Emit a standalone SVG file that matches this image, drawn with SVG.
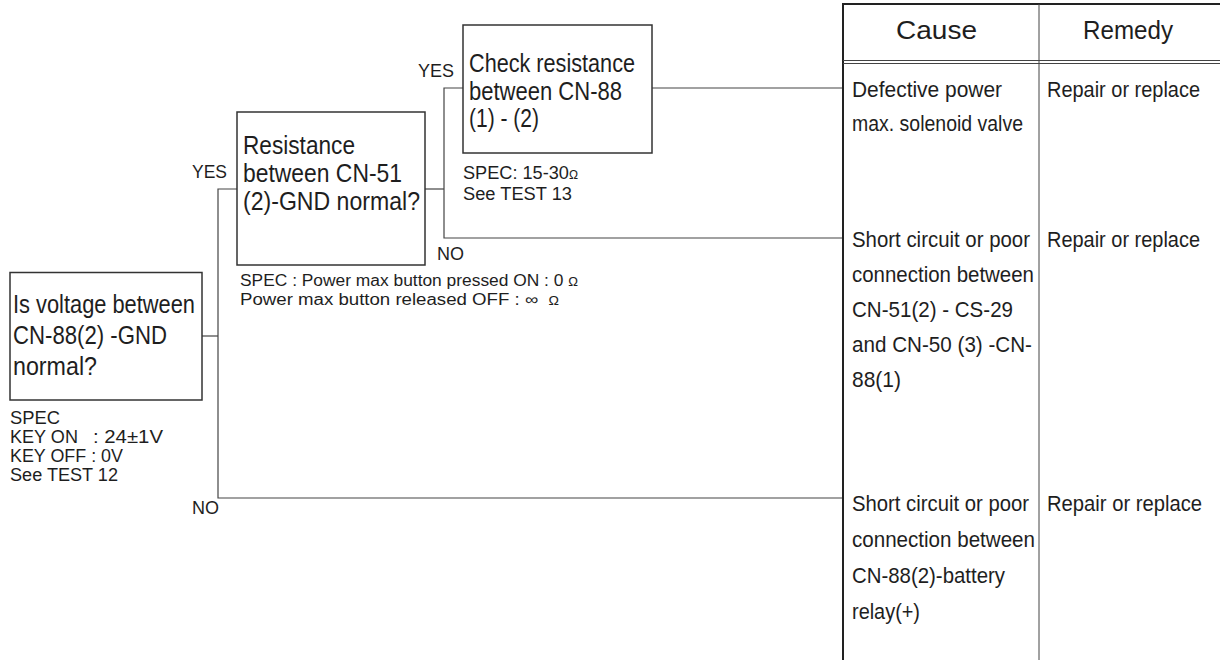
<svg xmlns="http://www.w3.org/2000/svg" width="1220" height="660" viewBox="0 0 1220 660">
<style>
text{font-family:"Liberation Sans",Arial,Helvetica,sans-serif;fill:#1e1e1e}
.t{font-size:25px}
.b{font-size:22px}
.s{font-size:18px}
.s2{font-size:16px}
.l{font-size:19px}
.box{fill:#fff;stroke:#333;stroke-width:1.5}
.c{fill:none;stroke:#444;stroke-width:1.2}
.tb{fill:none;stroke:#222;stroke-width:2}
.tt{fill:none;stroke:#444;stroke-width:1}
.om{font-size:12px}
</style>
<rect width="1220" height="660" fill="#fff"/>

<g id="connectors">
<polyline class="c" points="202,336 218,336"/>
<polyline class="c" points="237,189 218,189 218,498 843,498"/>
<polyline class="c" points="425,189 444,189"/>
<polyline class="c" points="463,88 444,88 444,238 843,238"/>
<polyline class="c" points="652,88 843,88"/>
<text class="l" x="192" y="178" textLength="35" lengthAdjust="spacingAndGlyphs">YES</text>
<text class="l" x="418" y="77" textLength="36" lengthAdjust="spacingAndGlyphs">YES</text>
<text class="l" x="437" y="260" textLength="27" lengthAdjust="spacingAndGlyphs">NO</text>
<text class="l" x="192" y="514" textLength="27" lengthAdjust="spacingAndGlyphs">NO</text>
</g>

<g id="node-voltage">
<rect class="box" x="10" y="272.5" width="192" height="127.5"/>
<text class="t" x="13" y="313" textLength="182" lengthAdjust="spacingAndGlyphs">Is voltage between</text>
<text class="t" x="13" y="344" textLength="154" lengthAdjust="spacingAndGlyphs">CN-88(2) -GND</text>
<text class="t" x="13" y="375" textLength="84" lengthAdjust="spacingAndGlyphs">normal?</text>
<text class="s" x="10" y="424" textLength="50" lengthAdjust="spacingAndGlyphs">SPEC</text>
<text class="s" x="10" y="443" textLength="68" lengthAdjust="spacingAndGlyphs">KEY ON</text>
<text class="s" x="93" y="443" textLength="70" lengthAdjust="spacingAndGlyphs">: 24±1V</text>
<text class="s" x="10" y="462" textLength="113" lengthAdjust="spacingAndGlyphs">KEY OFF : 0V</text>
<text class="s" x="10" y="481" textLength="108" lengthAdjust="spacingAndGlyphs">See TEST 12</text>
</g>

<g id="node-resistance">
<rect class="box" x="237" y="112" width="188" height="153"/>
<text class="t" x="243" y="154" textLength="112" lengthAdjust="spacingAndGlyphs">Resistance</text>
<text class="t" x="243" y="182" textLength="159" lengthAdjust="spacingAndGlyphs">between CN-51</text>
<text class="t" x="243" y="210" textLength="177" lengthAdjust="spacingAndGlyphs">(2)-GND normal?</text>
<text class="s2" x="240" y="286" textLength="338" lengthAdjust="spacingAndGlyphs">SPEC : Power max button pressed ON : 0 <tspan class="om">Ω</tspan></text>
<text class="s2" x="240" y="305" textLength="319" lengthAdjust="spacingAndGlyphs" style="white-space:pre">Power max button released OFF : ∞  <tspan class="om">Ω</tspan></text>
</g>

<g id="node-check">
<rect class="box" x="463" y="25" width="189" height="128"/>
<text class="t" x="469" y="72" textLength="166" lengthAdjust="spacingAndGlyphs">Check resistance</text>
<text class="t" x="469" y="100" textLength="153" lengthAdjust="spacingAndGlyphs">between CN-88</text>
<text class="t" x="469" y="127" textLength="70" lengthAdjust="spacingAndGlyphs">(1) - (2)</text>
<text class="s" x="463" y="179" textLength="115" lengthAdjust="spacingAndGlyphs">SPEC: 15-30<tspan class="om">Ω</tspan></text>
<text class="s" x="463" y="200" textLength="109" lengthAdjust="spacingAndGlyphs">See TEST 13</text>
</g>

<g id="table">
<line class="tb" x1="843" y1="3" x2="843" y2="660"/>
<line class="tb" x1="842" y1="4" x2="1220" y2="4"/>
<line class="tt" x1="843" y1="60.5" x2="1220" y2="60.5"/>
<line class="tt" x1="843" y1="63.5" x2="1220" y2="63.5"/>
<line class="tt" x1="1039" y1="4" x2="1039" y2="660"/>
<text class="t" x="896" y="39" textLength="81" lengthAdjust="spacingAndGlyphs">Cause</text>
<text class="t" x="1083" y="39" textLength="90" lengthAdjust="spacingAndGlyphs">Remedy</text>
</g>

<g id="row-1">
<text class="b" x="852" y="97" textLength="150" lengthAdjust="spacingAndGlyphs">Defective power</text>
<text class="b" x="852" y="131" textLength="171" lengthAdjust="spacingAndGlyphs">max. solenoid valve</text>
<text class="b" x="1047" y="97" textLength="153" lengthAdjust="spacingAndGlyphs">Repair or replace</text>
</g>

<g id="row-2">
<text class="b" x="852" y="247" textLength="178" lengthAdjust="spacingAndGlyphs">Short circuit or poor</text>
<text class="b" x="852" y="282" textLength="182" lengthAdjust="spacingAndGlyphs">connection between</text>
<text class="b" x="852" y="317" textLength="161" lengthAdjust="spacingAndGlyphs">CN-51(2) - CS-29</text>
<text class="b" x="852" y="352" textLength="180" lengthAdjust="spacingAndGlyphs">and CN-50 (3) -CN-</text>
<text class="b" x="852" y="387" textLength="49" lengthAdjust="spacingAndGlyphs">88(1)</text>
<text class="b" x="1047" y="247" textLength="153" lengthAdjust="spacingAndGlyphs">Repair or replace</text>
</g>

<g id="row-3">
<text class="b" x="852" y="511" textLength="177" lengthAdjust="spacingAndGlyphs">Short circuit or poor</text>
<text class="b" x="852" y="547" textLength="183" lengthAdjust="spacingAndGlyphs">connection between</text>
<text class="b" x="852" y="583" textLength="153" lengthAdjust="spacingAndGlyphs">CN-88(2)-battery</text>
<text class="b" x="852" y="619" textLength="68" lengthAdjust="spacingAndGlyphs">relay(+)</text>
<text class="b" x="1047" y="511" textLength="155" lengthAdjust="spacingAndGlyphs">Repair or replace</text>
</g>
</svg>
